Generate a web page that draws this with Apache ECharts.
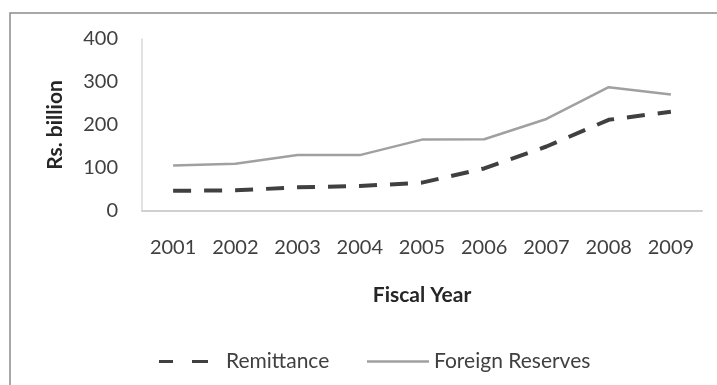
<!DOCTYPE html>
<html>
<head>
<meta charset="utf-8">
<script src="https://cdn.jsdelivr.net/npm/echarts@6/dist/echarts.min.js"></script>
<style>
  html, body { margin: 0; padding: 0; background: #fff; }
  #chart { width: 717px; height: 385px; }
</style>
</head>
<body>
<div id="chart"></div>
<script>
// Fiscal years on the category axis
const years = ['2001', '2002', '2003', '2004', '2005', '2006', '2007', '2008', '2009'];
// Values in Rs. billion
const remittance = [47, 48, 55, 58, 66, 99, 150, 212, 231];
const foreignReserves = [106, 110, 130, 130, 166, 167, 214, 288, 271];
// Value-axis range
const yMin = 0, yMax = 400, yStep = 100;

const FONT = 'Lato';
const chart = echarts.init(document.getElementById('chart'), null, { renderer: 'canvas' });

chart.setOption({
  backgroundColor: '#ffffff',
  animation: false,
  graphic: [
    // outer frame (top and left edges visible)
    {
      type: 'polyline',
      shape: { points: [[10, 400], [10, 13], [730, 13]] },
      style: { stroke: '#8c8c8c', lineWidth: 1.5, fill: null },
      silent: true
    }
  ],
  grid: { left: 142, right: 15, top: 39, bottom: 174 },
  legend: [
    {
      left: 154, top: 346,
      itemWidth: 49, itemHeight: 14,
      icon: 'path://M0,6 L14,6 L14,9 L0,9 Z M33,6 L49,6 L49,9 L33,9 Z',
      itemStyle: { color: '#404040', borderWidth: 0 },
      textStyle: { fontFamily: FONT, fontSize: 21, color: '#404040', padding: [0, 0, 0, 13] },
      data: ['Remittance']
    },
    {
      left: 362, top: 346,
      itemWidth: 62, itemHeight: 14,
      icon: 'path://M0,6 L62,6 L62,8.5 L0,8.5 Z',
      itemStyle: { color: '#a0a0a0', borderWidth: 0 },
      textStyle: { fontFamily: FONT, fontSize: 21, color: '#404040' },
      data: ['Foreign Reserves']
    }
  ],
  xAxis: {
    type: 'category',
    data: years,
    boundaryGap: true,
    axisLine: { show: true, lineStyle: { color: '#d0d0d0', width: 2 } },
    axisTick: { show: false },
    axisLabel: { fontFamily: FONT, fontSize: 20, color: '#404040', margin: 27 },
    splitLine: { show: false },
    name: 'Fiscal Year',
    nameLocation: 'middle',
    nameGap: 74,
    nameTextStyle: { fontFamily: FONT, fontSize: 21, fontWeight: 'bold', color: '#262626' }
  },
  yAxis: {
    type: 'value',
    min: yMin, max: yMax, interval: yStep,
    axisLine: { show: true, lineStyle: { color: '#d9d9d9', width: 1.5 } },
    axisTick: { show: false },
    splitLine: { show: false },
    axisLabel: { fontFamily: FONT, fontSize: 20, color: '#404040', margin: 24 },
    name: 'Rs. billion',
    nameLocation: 'middle',
    nameGap: 76,
    nameRotate: 90,
    nameTextStyle: { fontFamily: FONT, fontSize: 21, fontWeight: 'bold', color: '#262626' }
  },
  series: [
    {
      name: 'Remittance',
      type: 'line',
      data: remittance,
      symbol: 'none',
      lineStyle: { color: '#404040', width: 4, type: [18, 13] },
      itemStyle: { color: '#404040' }
    },
    {
      name: 'Foreign Reserves',
      type: 'line',
      data: foreignReserves,
      symbol: 'none',
      lineStyle: { color: '#a0a0a0', width: 2.5 },
      itemStyle: { color: '#a0a0a0' }
    }
  ]
});
</script>
</body>
</html>
